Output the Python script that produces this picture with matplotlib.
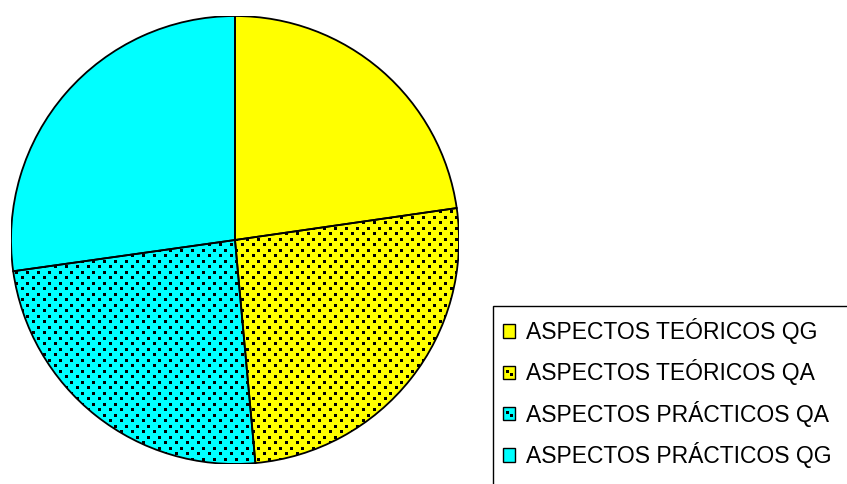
import matplotlib.pyplot as plt
import numpy as np
from matplotlib.patches import Rectangle, Wedge
from matplotlib.legend_handler import HandlerBase
from matplotlib.lines import Line2D

plt.rcParams['font.family'] = ['Liberation Sans', 'DejaVu Sans']

labels = ['ASPECTOS TEÓRICOS QG', 'ASPECTOS TEÓRICOS QA',
          'ASPECTOS PRÁCTICOS QA', 'ASPECTOS PRÁCTICOS QG']
values = [22.7, 25.8, 24.2, 27.2]
colors = ['#FFFF00', '#FFFF00', '#00FFFF', '#00FFFF']
dotted = [False, True, True, False]

W, H = 847, 484
fig = plt.figure(figsize=(W / 100, H / 100), dpi=100)

# pie centre (235, 240) px, radius 224 px
cx, cy, r = 235, 240, 224
ax = fig.add_axes([(cx - r) / W, (H - cy - r) / H, 2 * r / W, 2 * r / H])
wedges, _ = ax.pie(values, colors=colors, startangle=90, counterclock=False,
                   radius=1, wedgeprops=dict(edgecolor='none'))
ax.set_xlim(-1, 1)
ax.set_ylim(-1, 1)
ax.axis('off')

# dot texture (staggered rows) clipped to the dotted wedges
step_x = 11 / r
step_y = 5.5 / r
pts_x, pts_y = [], []
for i, yy in enumerate(np.arange(-1.05, 1.05, step_y)):
    shift = step_x / 2 if i % 2 else 0
    for xx in np.arange(-1.05, 1.05, step_x):
        pts_x.append(xx + shift)
        pts_y.append(yy)
for w, d in zip(wedges, dotted):
    if d:
        ln, = ax.plot(pts_x, pts_y, ls='none', marker='s', ms=2.16, mew=0,
                      color='black', zorder=2)
        ln.set_clip_path(w)

# outlines on top of the dots
for w in wedges:
    ax.add_patch(Wedge(w.center, w.r, w.theta1, w.theta2, facecolor='none',
                       edgecolor='black', linewidth=1.3, zorder=3))


class SquareHandler(HandlerBase):
    def create_artists(self, legend, orig, xdescent, ydescent, width, height,
                       fontsize, trans):
        box = Rectangle((-xdescent, -ydescent), width, height,
                        facecolor=orig.get_facecolor(), edgecolor='black',
                        linewidth=1.0, transform=trans)
        arts = [box]
        if orig.get_hatch():
            dots = Line2D([-xdescent + width * 0.35, -xdescent + width * 0.65],
                          [-ydescent + height * 0.62, -ydescent + height * 0.38],
                          ls='none', marker='s', ms=2.16, mew=0, color='black',
                          transform=trans)
            arts.append(dots)
        return arts


handles = [Rectangle((0, 0), 1, 1, facecolor=c, hatch='.' if d else None)
           for c, d in zip(colors, dotted)]

# legend frame runs off the right and bottom edges
fig.add_artist(Rectangle((493 / W, -0.1), 0.5, 1 - 306 / H + 0.1,
                         transform=fig.transFigure, facecolor='white',
                         edgecolor='black', linewidth=1.0, zorder=0))
leg = fig.legend(handles, labels, loc='upper left',
                 bbox_to_anchor=(503 / W, 1 - 318 / H),
                 frameon=False, fontsize=16.5, borderpad=0, borderaxespad=0,
                 handlelength=0.52, handleheight=0.52, handletextpad=0.5,
                 labelspacing=0.67,
                 handler_map={Rectangle: SquareHandler()})

fig.savefig('out.png', dpi=100)
